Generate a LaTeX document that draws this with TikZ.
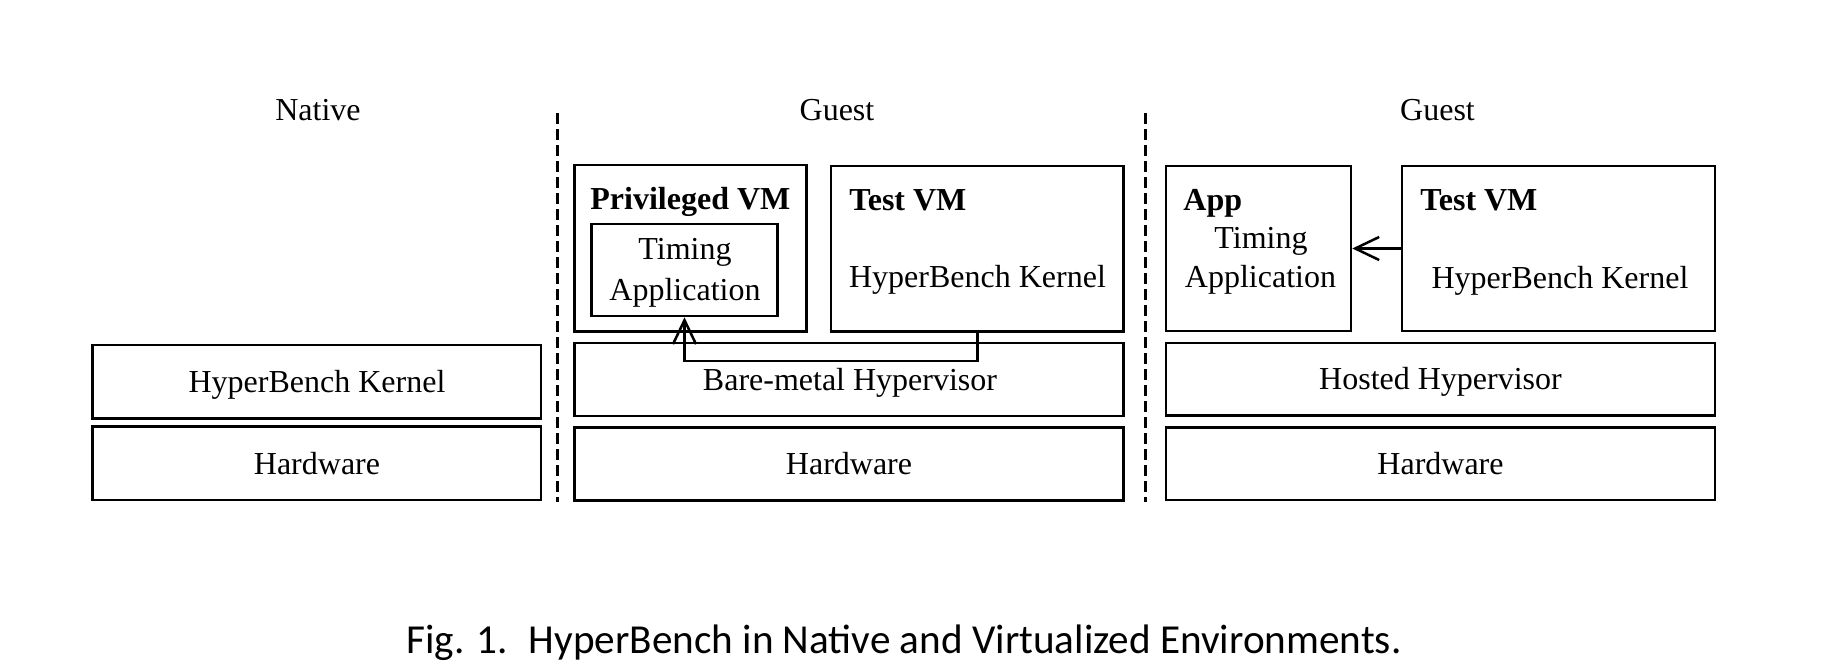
\documentclass[tikz,border=0pt]{standalone}
\usepackage{fontspec}
\setmainfont{Liberation Serif}
\newfontfamily\capfont{Carlito}
\usetikzlibrary{arrows.meta,fit}
\begin{document}
\begin{tikzpicture}[x=0.5pt,y=-0.5pt,
  box/.style={draw, line width=1.25pt, inner sep=0pt},
  lbl/.style={inner sep=0pt, font=\fontsize{16}{20}\selectfont},
  blbl/.style={inner sep=0pt, font=\fontsize{16}{20}\selectfont\bfseries},
  arr/.style={line width=1.25pt, -{Straight Barb[length=12pt,width=11.5pt,line width=1.25pt]}},
  sepline/.style={line width=1.65pt, dash pattern=on 5.5pt off 2.5pt}]
\useasboundingbox (0,0) rectangle (1836,668);

% headings
\node[lbl, anchor=base] (hnative) at (318,121) {Native};
\node[lbl, anchor=base] (hguest1) at (837,121) {Guest};
\node[lbl, anchor=base] (hguest2) at (1437.5,121) {Guest};

% separators
\coordinate (s1t) at (557.8,113);
\coordinate (s1b) at (557.8,502);
\coordinate (s2t) at (1145.5,113);
\coordinate (s2b) at (1145.5,502);
\draw[sepline] (s1t) -- (s1b);
\draw[sepline] (s2t) -- (s2b);

% native
\node[box, fit={(92.7,345) (541,418.3)}] (nk) {};
\node[lbl, anchor=base] (nkt) at (317,392.5) {HyperBench Kernel};
\node[box, fit={(92.7,426.7) (541,500)}] (nh) {};
\node[lbl, anchor=base] (nht) at (317,474.5) {Hardware};

% bare-metal
\node[box, fit={(574.3,165) (806.7,331.5)}] (pvm) {};
\node[blbl, anchor=base west] (pvmt) at (590,210) {Privileged VM};
\node[box, fit={(591.7,224) (777.3,316)}] (tapp) {};
\node[lbl, anchor=base] (tapp1) at (685,260) {Timing};
\node[lbl, anchor=base] (tapp2) at (685,300) {Application};
\node[box, fit={(831,166) (1123.5,331.5)}] (tvm) {};
\node[blbl, anchor=base west] (tvmt) at (849,211) {Test VM};
\node[lbl, anchor=base] (tvmk) at (977.5,287.5) {HyperBench Kernel};
\node[box, fit={(574.3,343) (1123.5,416)}] (bm) {};
\node[lbl, anchor=base] (bmt) at (850,390) {Bare-metal Hypervisor};
\node[box, fit={(574.3,427.5) (1123.5,500.5)}] (bh) {};
\node[lbl, anchor=base] (bht) at (849,474) {Hardware};

% hosted
\node[box, fit={(1166,166) (1351,331)}] (app) {};
\node[blbl, anchor=base west] (appt) at (1183,211) {App};
\node[lbl, anchor=base] (app1) at (1261,249) {Timing};
\node[lbl, anchor=base] (app2) at (1260.5,287) {Application};
\node[box, fit={(1402,166) (1715,331)}] (rvm) {};
\node[blbl, anchor=base west] (rvmt) at (1420,211) {Test VM};
\node[lbl, anchor=base] (rvmk) at (1560,288) {HyperBench Kernel};
\node[box, fit={(1166,343) (1715,415.5)}] (hh) {};
\node[lbl, anchor=base] (hht) at (1440.5,389.5) {Hosted Hypervisor};
\node[box, fit={(1166,427.5) (1715,500)}] (rh) {};
\node[lbl, anchor=base] (rht) at (1440.5,474) {Hardware};

% connectors
\draw[arr] (tvm.south) -- ++(0,28) -| (tapp.south);
\draw[arr] (rvm.west) -- (app.east);

% caption
\node[inner sep=0pt, anchor=base, font=\capfont\fontsize{20.6}{24}\selectfont] (cap) at (904,653)
  {Fig. 1.\hspace{0.5em}HyperBench in Native and Virtualized Environments.};
\end{tikzpicture}
\end{document}
